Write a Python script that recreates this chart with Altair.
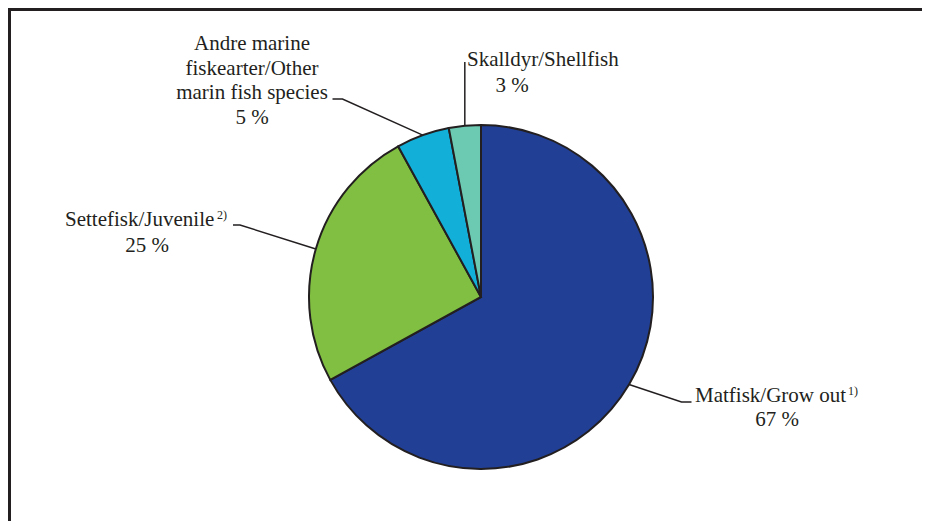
import math
import altair as alt
import pandas as pd

# ---- data ----
categories = ["Matfisk/Grow out", "Settefisk/Juvenile", "Andre marine fiskearter/Other marin fish species", "Skalldyr/Shellfish"]
shares = [67, 25, 5, 3]
colors = ["#213F94", "#80BF41", "#12AFD9", "#6DCAB2"]

label_lines = [
    ["Matfisk/Grow out", "67 %"],
    ["Settefisk/Juvenile", "25 %"],
    ["Andre marine", "fiskearter/Other", "marin fish species", "5 %"],
    ["Skalldyr/Shellfish", "3 %"],
]
footnote_marks = ["1)", "2)"]

# ---- layout (pixels, chart coordinates) ----
W, H = 914, 513
CX, CY, R = 473, 289, 172
INK = "#231F20"
FONT = "Liberation Serif"
FS = 21
FS_SUP = 12

# text rows: (x, baseline y, align) for each line of each label
text_layout = [
    [(687, 394, "left"), (769, 418, "center")],
    [(57, 218, "left"), (139, 244, "center")],
    [(244, 42, "center"), (244, 66.7, "center"), (244, 91.4, "center"), (244, 116, "center")],
    [(459, 58, "left"), (504, 84, "center")],
]
sup_layout = [(840, 387), (209, 211)]

# leader elbows and ends: list of (x, y) after the arc point
leader_layout = [
    [(673.5, 394), (683.5, 394)],
    [(232, 217), (225, 217)],
    [(334.5, 91), (324.5, 91)],
    [("arc", 54)],
]

pie_df = pd.DataFrame({
    "category": categories,
    "share": shares,
    "order": list(range(len(categories))),
})

# mid-angle arc points, derived from the data
total = sum(shares)
cum = 0
arc_pts = []
for s in shares:
    mid = (cum + s / 2) / total * 2 * math.pi
    arc_pts.append((CX + R * math.sin(mid), CY - R * math.cos(mid)))
    cum += s

lead_rows = []
for i, (ax, ay) in enumerate(arc_pts):
    lead_rows.append({"id": i, "seq": 0, "px": ax, "py": ay})
    for j, (ex, ey) in enumerate(leader_layout[i]):
        if ex == "arc":
            ex = ax
        lead_rows.append({"id": i, "seq": j + 1, "px": ex, "py": ey})
lead_df = pd.DataFrame(lead_rows)

text_rows = []
for i, lines in enumerate(label_lines):
    for k, t in enumerate(lines):
        x, y, al = text_layout[i][k]
        text_rows.append({"t": t, "px": x, "py": y, "al": al})
text_df = pd.DataFrame(text_rows)

sup_df = pd.DataFrame({
    "t": footnote_marks,
    "px": [p[0] for p in sup_layout],
    "py": [p[1] for p in sup_layout],
})

pie = alt.Chart(pie_df).mark_arc(
    outerRadius=R, stroke=INK, strokeWidth=2
).encode(
    theta=alt.Theta("share:Q", stack=True),
    order=alt.Order("order:O"),
    color=alt.Color("category:N", scale=alt.Scale(domain=categories, range=colors), legend=None),
    x=alt.value(CX),
    y=alt.value(CY),
)

leaders = alt.Chart(lead_df).mark_line(color=INK, strokeWidth=1.5).encode(
    x=alt.X("px:Q", scale=None),
    y=alt.Y("py:Q", scale=None),
    detail="id:N",
    order="seq:Q",
)

texts_left = alt.Chart(text_df[text_df.al == "left"]).mark_text(
    align="left", baseline="alphabetic", font=FONT, fontSize=FS, color=INK
).encode(x=alt.X("px:Q", scale=None), y=alt.Y("py:Q", scale=None), text="t:N")

texts_center = alt.Chart(text_df[text_df.al == "center"]).mark_text(
    align="center", baseline="alphabetic", font=FONT, fontSize=FS, color=INK
).encode(x=alt.X("px:Q", scale=None), y=alt.Y("py:Q", scale=None), text="t:N")

sups = alt.Chart(sup_df).mark_text(
    align="left", baseline="alphabetic", font=FONT, fontSize=FS_SUP, color=INK
).encode(x=alt.X("px:Q", scale=None), y=alt.Y("py:Q", scale=None), text="t:N")

frame_top = alt.Chart(pie_df).mark_rule(color=INK, strokeWidth=3).encode(
    x=alt.value(0), x2=alt.value(W), y=alt.value(1.5)
)
frame_left = alt.Chart(pie_df).mark_rule(color=INK, strokeWidth=3).encode(
    x=alt.value(1.5), y=alt.value(0), y2=alt.value(H)
)

chart = alt.layer(pie, leaders, texts_left, texts_center, sups, frame_top, frame_left).properties(
    width=W, height=H, padding=0,
    autosize=alt.AutoSizeParams(type="none"),
).configure_view(stroke=None).configure(background="white")

chart.save("out.html", embed_options={"renderer": "svg", "actions": False})
